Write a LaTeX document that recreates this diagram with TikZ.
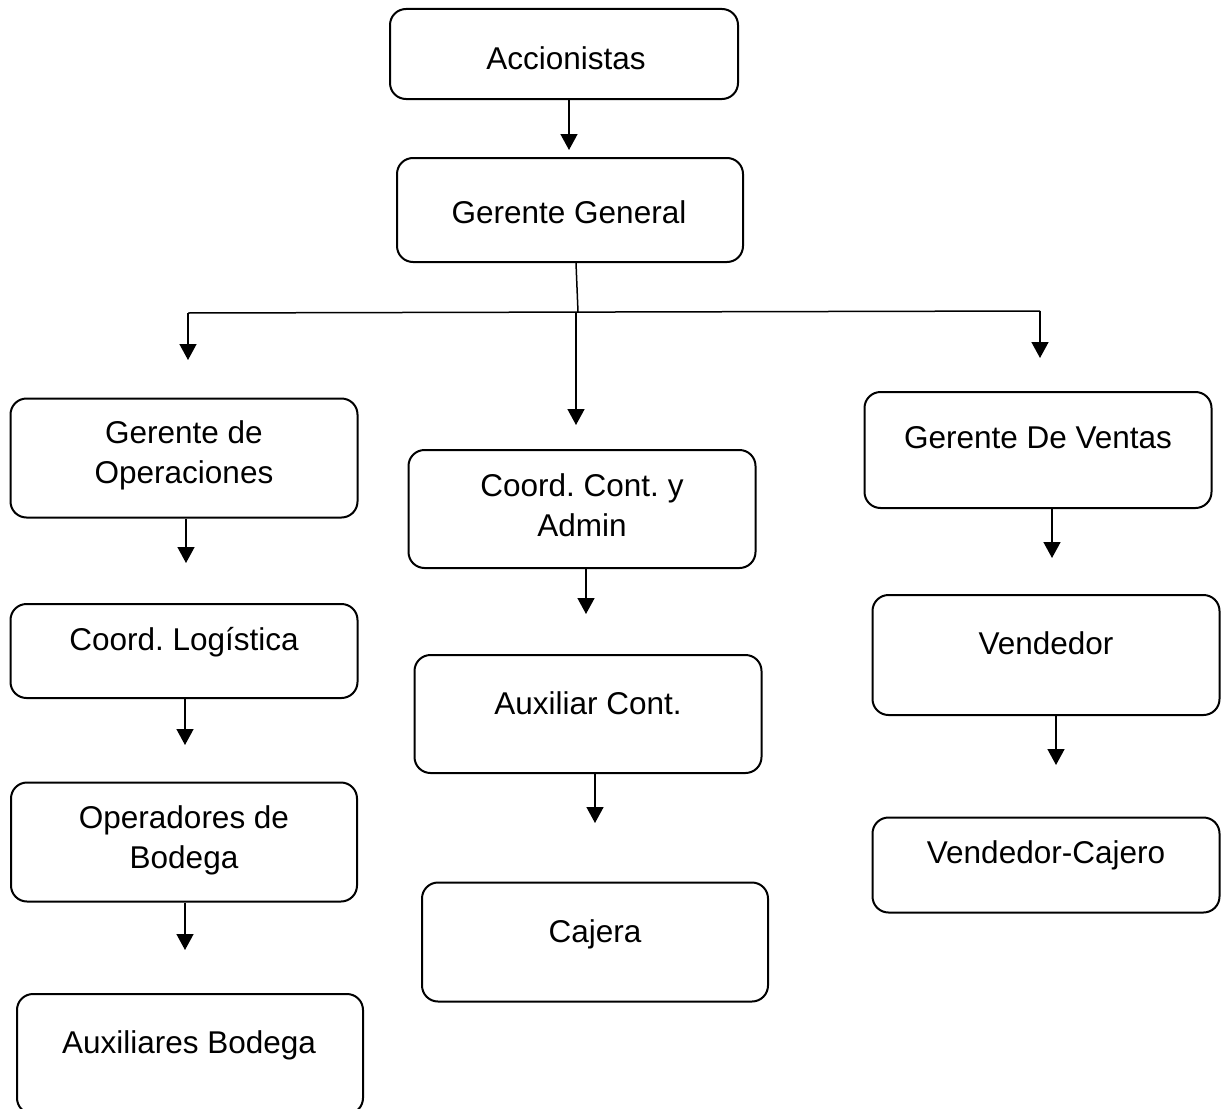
\documentclass[tikz,border=0pt]{standalone}
\usepackage{fontspec}
\setmainfont{Liberation Sans}
\usetikzlibrary{arrows.meta}
\frenchspacing
\begin{document}
\begin{tikzpicture}[x=1pt,y=-1pt,
  box/.style={draw,line width=2pt,rounded corners=16pt,inner sep=0pt},
  lbl/.style={anchor=base,inner sep=0pt,font=\fontsize{31.5}{39}\selectfont},
  arr/.style={line width=1.5pt,-{Triangle[width=17pt,length=16pt]}},
  ln/.style={line width=1.5pt}]
\useasboundingbox (0,0) rectangle (1223,1108);
\fill[white] (0,0) rectangle (1223,1108);
% boxes
\node[box,minimum width=348pt,minimum height=90pt] (acc) at (564,54) {};
\node[box,minimum width=346pt,minimum height=104pt] (gg) at (570,210) {};
\node[box,minimum width=347pt,minimum height=119pt] (go) at (184,458) {};
\node[box,minimum width=347pt,minimum height=118pt] (cca) at (582,509) {};
\node[box,minimum width=347pt,minimum height=116pt] (gv) at (1038,450) {};
\node[box,minimum width=347pt,minimum height=94pt] (cl) at (184,651) {};
\node[box,minimum width=347pt,minimum height=118pt] (ac) at (588,714) {};
\node[box,minimum width=347pt,minimum height=120pt] (ven) at (1046,655) {};
\node[box,minimum width=346pt,minimum height=119pt] (ob) at (184,842) {};
\node[box,minimum width=346pt,minimum height=119pt] (caj) at (595,942) {};
\node[box,minimum width=347pt,minimum height=95pt] (vc) at (1046,865) {};
\node[box,minimum width=346pt,minimum height=120pt] (ab) at (190,1054) {};
% texts
\node[lbl] (tacc) at (566,70) {Accionistas};
\node[lbl] (tgg) at (569,223) {Gerente General};
\node[lbl] (tgo1) at (184,443) {Gerente de};
\node[lbl] (tgo2) at (184,483) {Operaciones};
\node[lbl] (tcca1) at (582,496) {Coord. Cont. y};
\node[lbl] (tcca2) at (582,536) {Admin};
\node[lbl] (tgv) at (1038,448) {Gerente De Ventas};
\node[lbl] (tcl) at (184,650) {Coord. Logística};
\node[lbl] (tac) at (588,714) {Auxiliar Cont.};
\node[lbl] (tven) at (1046,654) {Vendedor};
\node[lbl] (tob1) at (184,828) {Operadores de};
\node[lbl] (tob2) at (184,868) {Bodega};
\node[lbl] (tcaj) at (595,942) {Cajera};
\node[lbl] (tvc) at (1046,863) {Vendedor-Cajero};
\node[lbl] (tab) at (189,1053) {Auxiliares Bodega};
% arrow end points
\coordinate (e1) at (569,150);
\coordinate (bg) at (576,262);
\coordinate (bm) at (578,312);
\coordinate (bl) at (188,313);
\coordinate (br) at (1040,311);
\coordinate (el) at (188,360);
\coordinate (er) at (1040,358);
\coordinate (em) at (576,425);
\coordinate (e2) at (186,563);
\coordinate (e3) at (185,745);
\coordinate (e4) at (185,950);
\coordinate (e5) at (586,614);
\coordinate (e6) at (595,823);
\coordinate (e7) at (1052,558);
\coordinate (e8) at (1056,765);
% connectors
\draw[arr] (acc.south -| e1) -- (e1);
\draw[ln] (gg.south -| bg) -- (bm);
\draw[ln] (bl) -- (br);
\draw[arr] (bl) -- (el);
\draw[arr] (br) -- (er);
\draw[arr] (bm) ++(-2,0) -- (em);
\draw[arr] (go.south -| e2) -- (e2);
\draw[arr] (cl.south -| e3) -- (e3);
\draw[arr] (ob.south -| e4) -- (e4);
\draw[arr] (cca.south -| e5) -- (e5);
\draw[arr] (ac.south -| e6) -- (e6);
\draw[arr] (gv.south -| e7) -- (e7);
\draw[arr] (ven.south -| e8) -- (e8);
\end{tikzpicture}
\end{document}
